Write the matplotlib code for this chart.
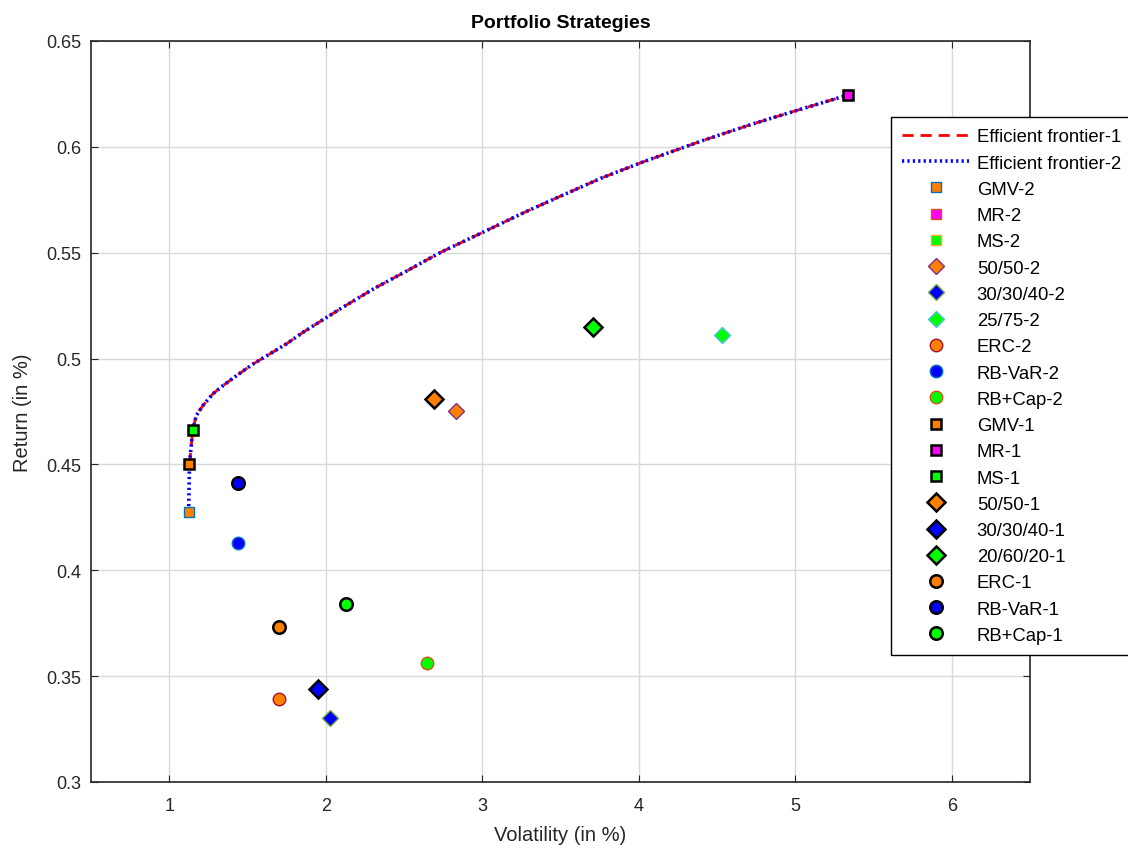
import matplotlib
matplotlib.use("Agg")
import matplotlib.pyplot as plt

plt.rcParams["font.family"] = ["Liberation Sans", "DejaVu Sans"]

# Efficient frontier (volatility, return), low to high risk
frontier_vol = [1.124, 1.129, 1.150, 1.172, 1.214, 1.278, 1.343, 1.429, 1.535,
                1.643, 1.750, 1.857, 2.093, 2.307, 2.521, 2.735, 3.003, 3.271,
                3.485, 3.763, 4.021, 4.406, 4.728, 5.006, 5.338]
frontier_ret = [0.4277, 0.4502, 0.4662, 0.4730, 0.4777, 0.4833, 0.4872, 0.4919,
                0.4974, 0.5022, 0.5070, 0.5125, 0.5235, 0.5330, 0.5415, 0.5502,
                0.5596, 0.5691, 0.5762, 0.5853, 0.5927, 0.6029, 0.6108, 0.6171,
                0.6245]

# Strategies, second data set
names_2 = ["GMV-2", "MR-2", "MS-2", "50/50-2", "30/30/40-2", "25/75-2",
           "ERC-2", "RB-VaR-2", "RB+Cap-2"]
vol_2 = [1.124, 5.338, 1.150, 2.83, 2.03, 4.53, 1.70, 1.44, 2.65]
ret_2 = [0.4277, 0.6245, 0.4662, 0.475, 0.330, 0.511, 0.339, 0.413, 0.356]

# Strategies, first data set
names_1 = ["GMV-1", "MR-1", "MS-1", "50/50-1", "30/30/40-1", "20/60/20-1",
           "ERC-1", "RB-VaR-1", "RB+Cap-1"]
vol_1 = [1.129, 5.338, 1.150, 2.69, 1.95, 3.71, 1.70, 1.44, 2.13]
ret_1 = [0.4502, 0.6245, 0.4662, 0.481, 0.344, 0.515, 0.373, 0.441, 0.384]

markers = ["s", "s", "s", "D", "D", "D", "o", "o", "o"]
orange, magenta, green, blue = (1, 0.5, 0), (1, 0, 1), (0, 1, 0), (0, 0, 1)
fills_2 = [orange, magenta, green, orange, blue, green, orange, blue, green]
fills_1 = [orange, magenta, green, orange, blue, green, orange, blue, green]

# default colour order, used for the edges of the second set
order = [(0, 0.447, 0.741), (0.85, 0.325, 0.098), (0.929, 0.694, 0.125),
         (0.494, 0.184, 0.556), (0.466, 0.674, 0.188), (0.301, 0.745, 0.933),
         (0.635, 0.078, 0.184)]
size_2 = {"s": 7, "D": 8, "o": 9}
size_1 = {"s": 7.5, "D": 9, "o": 9}

fig = plt.figure(figsize=(11.28, 8.53), dpi=100)
ax = fig.add_axes([0.0807, 0.0821, 0.8324, 0.8687])

handles = []
h, = ax.plot(frontier_vol[1:], frontier_ret[1:], color="red", linestyle=(0, (4, 2.5)),
             linewidth=2, label="Efficient frontier-1")
handles.append(h)
h, = ax.plot(frontier_vol, frontier_ret, color="blue", linestyle=(0, (0.6, 0.9)),
             linewidth=2.6, label="Efficient frontier-2")
handles.append(h)

for i, name in enumerate(names_2):
    h, = ax.plot(vol_2[i], ret_2[i], linestyle="none", marker=markers[i],
                 markersize=size_2[markers[i]], markerfacecolor=fills_2[i],
                 markeredgecolor=order[i % 7], markeredgewidth=1.0, label=name)
    handles.append(h)

for i, name in enumerate(names_1):
    h, = ax.plot(vol_1[i], ret_1[i], linestyle="none", marker=markers[i],
                 markersize=size_1[markers[i]], markerfacecolor=fills_1[i],
                 markeredgecolor="black", markeredgewidth=1.8, label=name)
    handles.append(h)

ax.set_xlim(0.5, 6.5)
ax.set_ylim(0.3, 0.65)
ax.set_xticks([1, 2, 3, 4, 5, 6])
ax.set_yticks([0.3, 0.35, 0.4, 0.45, 0.5, 0.55, 0.6, 0.65])
ax.set_yticklabels(["0.3", "0.35", "0.4", "0.45", "0.5", "0.55", "0.6", "0.65"])
ax.grid(True, color="#d9d9d9", linewidth=1)
ax.set_axisbelow(True)
ax.tick_params(direction="in", top=True, right=True, length=5,
               labelsize=13, colors="#262626")
ax.tick_params(axis="x", pad=11)
ax.tick_params(axis="y", pad=7)
for s in ax.spines.values():
    s.set_color("#262626")
    s.set_linewidth(1.2)

ax.set_title("Portfolio Strategies", fontsize=14, fontweight="bold", pad=10)
ax.set_xlabel("Volatility (in %)", fontsize=14.5, color="#262626", labelpad=8)
ax.set_ylabel("Return (in %)", fontsize=14.5, color="#262626", labelpad=10)

leg = fig.legend(handles=handles, loc="upper left",
                 bbox_to_anchor=(891 / 1128, 1 - 118 / 853),
                 fontsize=13.3, frameon=True, fancybox=False, framealpha=1,
                 edgecolor="black", handlelength=3.6, handletextpad=0.42,
                 labelspacing=0.5, borderpad=0.62, borderaxespad=0)
leg.get_frame().set_linewidth(1.0)

fig.savefig("out.png", dpi=100)
